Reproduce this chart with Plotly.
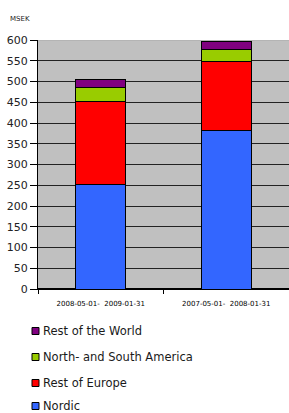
import plotly.graph_objects as go

categories = ["2008-05-01-\u00a0\u00a02009-01-31", "2007-05-01-\u00a0\u00a02008-01-31"]
nordic = [252, 383]
rest_of_europe = [200, 166]
americas = [33, 27]
rest_of_world = [21, 21]
series_names = ["Nordic", "Rest of Europe", "North- and South America", "Rest of the World"]
series_values = [nordic, rest_of_europe, americas, rest_of_world]
series_colors = ["#3366ff", "#ff0000", "#99cc00", "#800080"]
y_ticks = list(range(0, 601, 50))

W, H = 289, 413
L, R, T, B = 38, 0, 40, 124
pw, ph = W - L - R, H - T - B


def px_x(px):
    return (px - L) / pw


def px_y(py):
    return (H - B - py) / ph


fig = go.Figure()
for name, vals, col in zip(series_names, series_values, series_colors):
    fig.add_trace(go.Bar(
        x=categories, y=vals, name=name,
        marker=dict(color=col, line=dict(color="#000000", width=1)),
        width=0.4, showlegend=False,
    ))

shapes = [dict(type="line", xref="paper", yref="y", x0=0, x1=1, y0=600, y1=600,
               line=dict(color="#a8a8a8", width=1), layer="above")]
annotations = [dict(
    text="MSEK", xref="paper", yref="paper", x=px_x(8), y=px_y(19),
    xanchor="left", yanchor="middle", showarrow=False,
    font=dict(size=7, family="DejaVu Sans", color="#222222"),
)]

# custom legend (reversed order, like the stacked legend in the original)
legend_rows = list(zip(series_names, series_colors))[::-1]
row_y = [331, 357, 383, 406]
for (name, col), yc in zip(legend_rows, row_y):
    shapes.append(dict(
        type="rect", xref="paper", yref="paper",
        x0=px_x(32), x1=px_x(39), y0=px_y(yc + 3.5), y1=px_y(yc - 3.5),
        fillcolor=col, line=dict(color="#000000", width=1),
    ))
    annotations.append(dict(
        text=name, xref="paper", yref="paper", x=px_x(41), y=px_y(yc),
        xanchor="left", yanchor="middle", showarrow=False,
        font=dict(size=11.5, family="DejaVu Sans", color="#1a1a1a"),
    ))

fig.update_layout(
    width=W, height=H,
    barmode="stack",
    margin=dict(l=L, r=R, t=T, b=B, autoexpand=False),
    paper_bgcolor="white",
    plot_bgcolor="#c0c0c0",
    font=dict(family="DejaVu Sans", color="#222222", size=11),
    showlegend=False,
    xaxis=dict(
        type="category", tickson="boundaries", ticks="outside", ticklen=4,
        tickcolor="#000000", showline=True, linecolor="#000000", linewidth=1,
        tickfont=dict(size=7, family="DejaVu Sans", color="#000000"),
        ticklabelstandoff=8,
        showgrid=False,
    ),
    yaxis=dict(
        range=[0, 600], tickvals=y_ticks, ticks="outside", ticklen=7,
        tickcolor="#000000", showline=True, linecolor="#000000", linewidth=1,
        showgrid=True, gridcolor="#222222", gridwidth=1,
        zeroline=True, zerolinecolor="#000000",
        tickfont=dict(size=11, family="DejaVu Sans", color="#222222"),
    ),
    shapes=shapes,
    annotations=annotations,
)

fig.write_html(
    "out.html",
    config={"displayModeBar": False},
    post_script="document.body.style.margin='0';document.body.style.overflow='hidden';",
)
